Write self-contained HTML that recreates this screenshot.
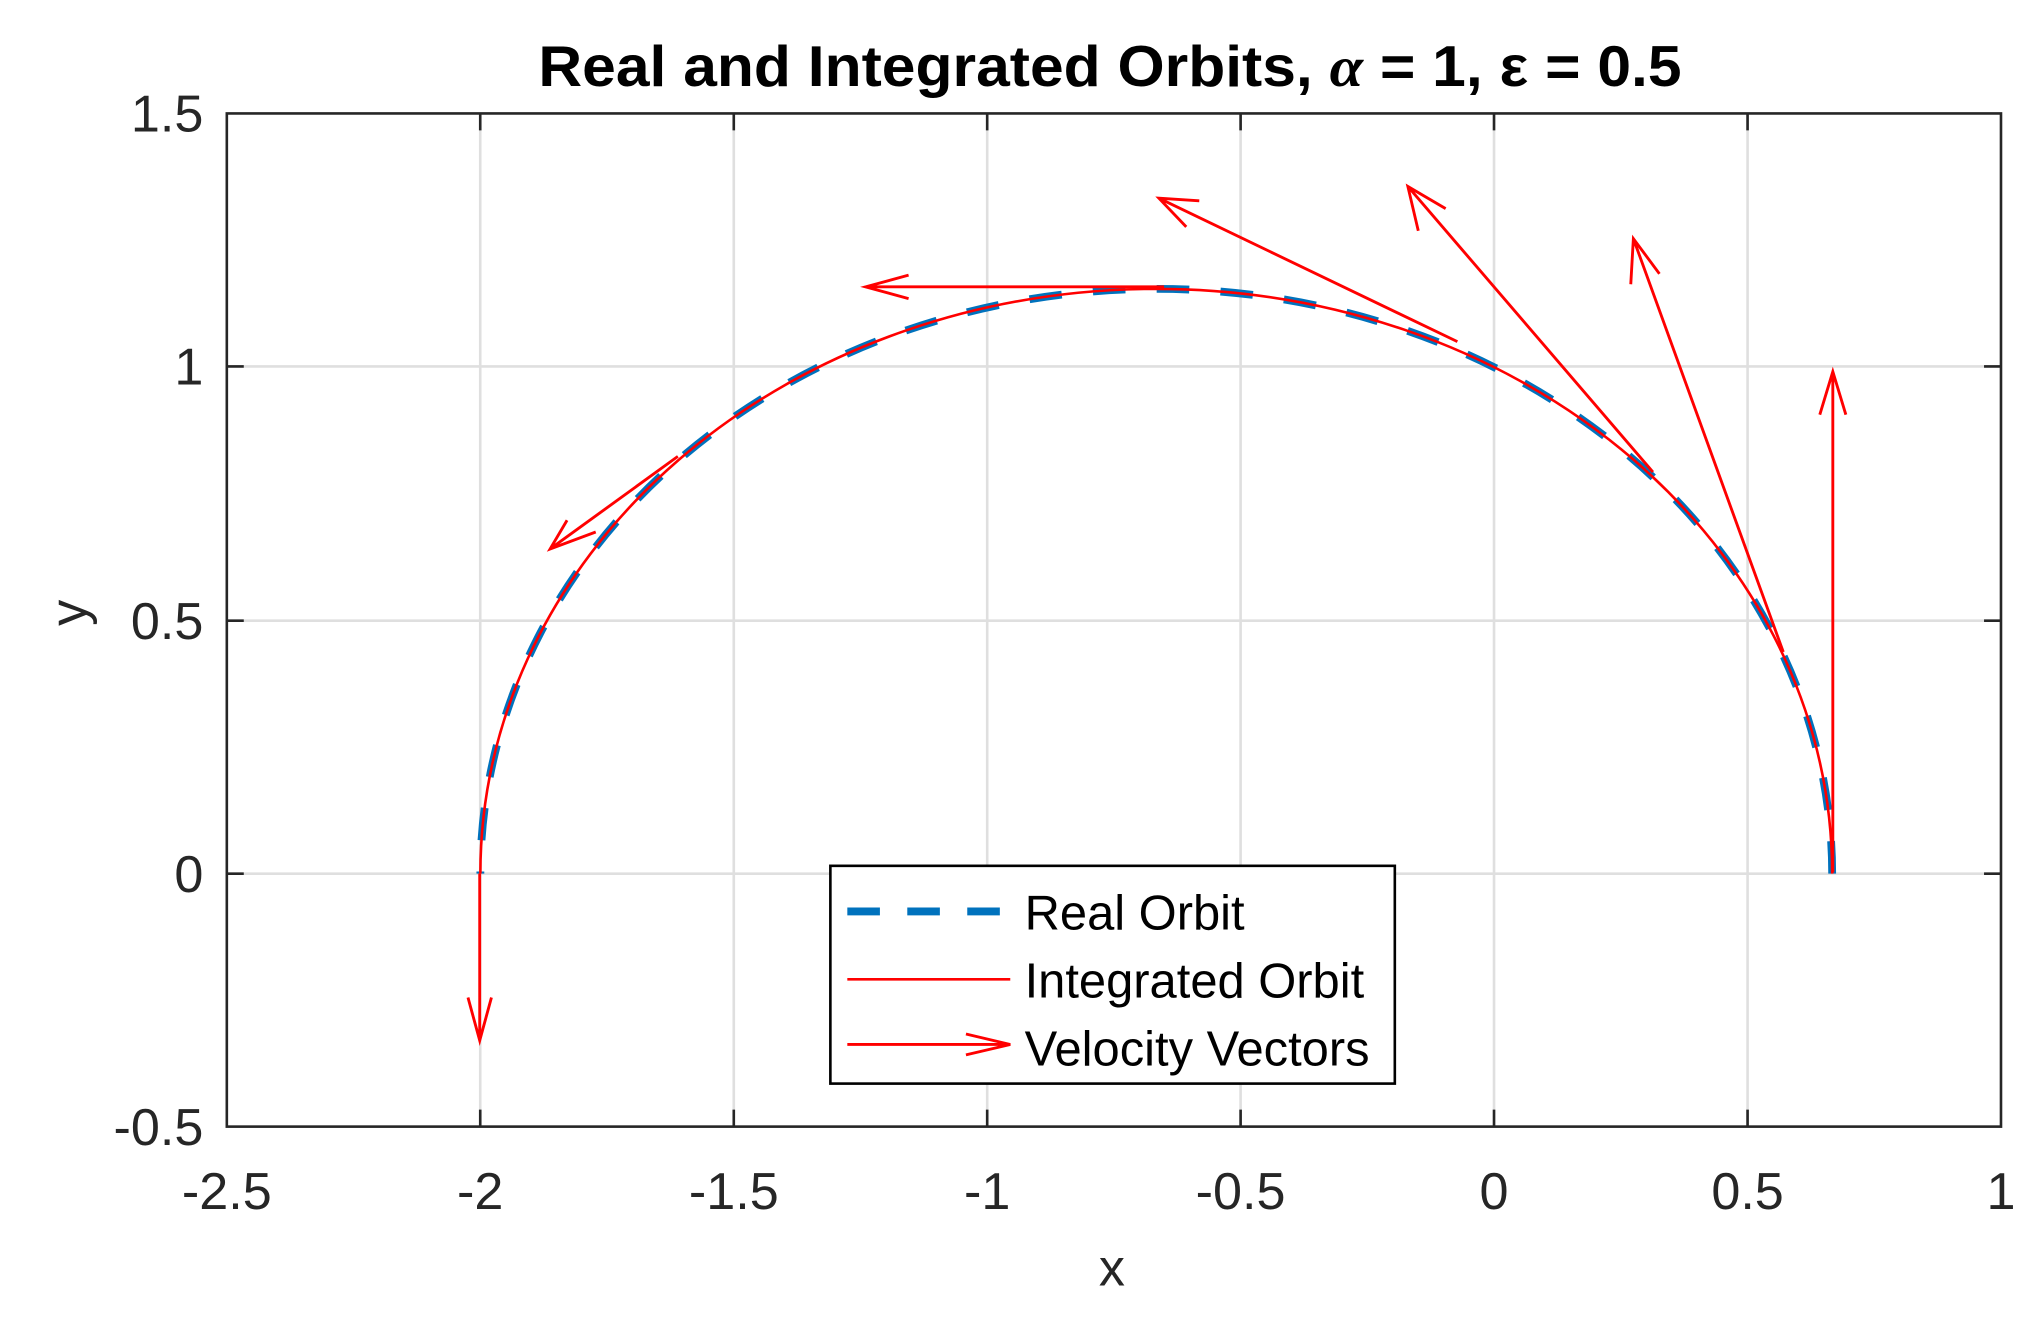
<!DOCTYPE html>
<html><head><style>
html,body{margin:0;padding:0;background:#fff;}
svg{display:block;}
text{font-family:"Liberation Sans",Arial,sans-serif;fill:#262626;}
</style></head><body>
<svg width="2044" height="1317" viewBox="0 0 1568 1010" preserveAspectRatio="none" xmlns="http://www.w3.org/2000/svg">
<rect width="1568" height="1010" fill="#fff"/>
<g stroke="#dfdfdf" stroke-width="2">
<line x1="368.4" y1="87" x2="368.4" y2="864"/>
<line x1="562.9" y1="87" x2="562.9" y2="864"/>
<line x1="757.3" y1="87" x2="757.3" y2="864"/>
<line x1="951.7" y1="87" x2="951.7" y2="864"/>
<line x1="1146.1" y1="87" x2="1146.1" y2="864"/>
<line x1="1340.6" y1="87" x2="1340.6" y2="864"/>
<line x1="174" y1="281" x2="1535" y2="281"/>
<line x1="174" y1="476" x2="1535" y2="476"/>
<line x1="174" y1="670" x2="1535" y2="670"/>
</g>
<g stroke="#262626" stroke-width="2">
<rect x="174" y="87" width="1361" height="777" fill="none"/>
<path d="M368.4 864v-13M562.9 864v-13M757.3 864v-13M951.7 864v-13M1146.1 864v-13M1340.6 864v-13M368.4 87v13M562.9 87v13M757.3 87v13M951.7 87v13M1146.1 87v13M1340.6 87v13M174 281h13M174 476h13M174 670h13M1535 281h-13M1535 476h-13M1535 670h-13"/>
</g>
<g font-size="40" text-anchor="middle">
<text x="174" y="927">-2.5</text><text x="368.4" y="927">-2</text><text x="562.9" y="927">-1.5</text><text x="757.3" y="927">-1</text><text x="951.7" y="927">-0.5</text><text x="1146.1" y="927">0</text><text x="1340.6" y="927">0.5</text><text x="1535" y="927">1</text>
</g>
<g font-size="40" text-anchor="end">
<text x="156" y="101">1.5</text><text x="156" y="295">1</text><text x="156" y="490">0.5</text><text x="156" y="684">0</text><text x="156" y="878">-0.5</text>
</g>
<text x="853" y="986" font-size="40" text-anchor="middle">x</text>
<text x="0" y="0" font-size="40" text-anchor="middle" transform="translate(66,470) rotate(-90)">y</text>
<text x="413" y="66" font-size="44" font-weight="bold" textLength="877" lengthAdjust="spacingAndGlyphs" style="fill:#000">Real and Integrated Orbits, <tspan font-family="Liberation Serif" font-style="italic">α</tspan> = 1, ε = 0.5</text>
<path d="M1405.5 670 A518.5 448.6 0 0 0 368.5 670" fill="none" stroke="#0072bd" stroke-width="6" stroke-dasharray="25 24"/>
<path d="M1405.5 670 A518.5 448.6 0 0 0 368.5 670" fill="none" stroke="#ff0000" stroke-width="2"/>
<g stroke="#ff0000" stroke-width="2.2" fill="none">
<path d="M1406 669L1406 285M1396 318L1406 285L1416 318"/>
<path d="M1368 500L1253 183M1251 218L1253 183L1273 210"/>
<path d="M1268 362L1080 143M1088 177L1080 143L1109 160"/>
<path d="M1118 262L889 152M910 174L889 152L920 154"/>
<path d="M893 220L664 220M697 211L664 220L697 229"/>
<path d="M520 350L422 421M435 399L422 421L457 408"/>
<path d="M368 670L368 798M359 765L368 798L377 765"/>
</g>
<rect x="637" y="664" width="433" height="167" fill="#fff" stroke="#000" stroke-width="2"/>
<line x1="650" y1="699" x2="775" y2="699" stroke="#0072bd" stroke-width="6" stroke-dasharray="25 21"/>
<line x1="650" y1="751" x2="775" y2="751" stroke="#ff0000" stroke-width="2"/>
<path d="M650 801H775M741 793L775 801L741 809" stroke="#ff0000" stroke-width="2.2" fill="none"/>
<g font-size="37.5">
<text x="786" y="713" style="fill:#000">Real Orbit</text>
<text x="786" y="765" style="fill:#000">Integrated Orbit</text>
<text x="786" y="817" style="fill:#000">Velocity Vectors</text>
</g>
</svg>
</body></html>
